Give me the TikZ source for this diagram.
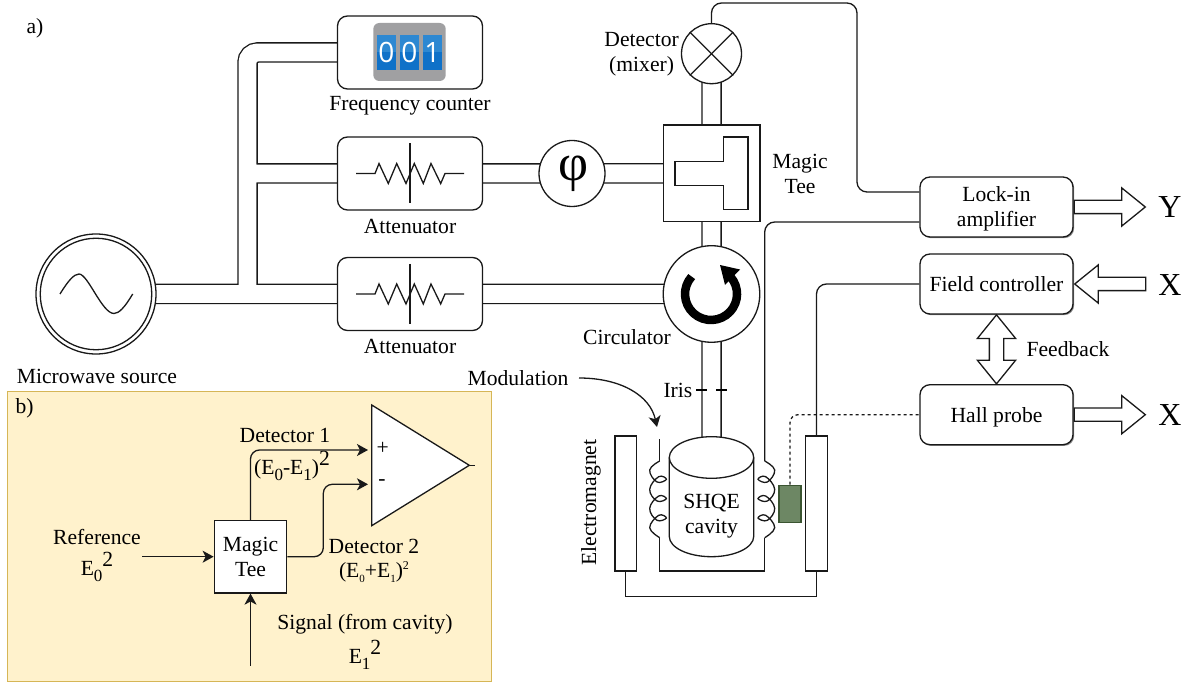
\documentclass[tikz,border=0pt]{standalone}
\usepackage{fontspec}
\setmainfont{Liberation Serif}
\newfontfamily\digitfont{Open Sans}
\usetikzlibrary{arrows.meta,positioning,calc,backgrounds,shadows,shapes.arrows}
\definecolor{panelfill}{HTML}{FFF2CC}
\definecolor{panelline}{HTML}{D6B656}
\definecolor{probefill}{HTML}{6D8764}
\definecolor{probeline}{HTML}{3A5431}
\definecolor{countgray}{HTML}{A0A0A2}
\definecolor{digittop}{HTML}{2D88D2}
\definecolor{digitlow}{HTML}{0F71C8}
\newcommand{\lbl}{\fontsize{21.6}{25}\selectfont}
\newcommand{\lowsub}[1]{\raisebox{-.28em}{\fontsize{17}{17}\selectfont #1}}
\newcommand{\upsup}[1]{\raisebox{.42em}{#1}}
\newcommand{\tinysub}[1]{\raisebox{-.2em}{\fontsize{11}{11}\selectfont #1}}
\newcommand{\tinysup}[1]{\raisebox{.4em}{\fontsize{12}{12}\selectfont #1}}
\tikzset{
  wire/.style={line width=1.3pt, draw=black!90},
  guide/.style={line width=1.3pt, draw=black!90, double=white, double distance=17.9pt, rounded corners=10pt},
  rbox/.style={rectangle, rounded corners=10pt, draw=black!90, line width=1.3pt, fill=white,
               align=center, minimum width=145pt, minimum height=73pt, inner sep=0pt},
  ctrl/.style={rbox, minimum width=153pt, minimum height=60pt,
               drop shadow={shadow xshift=1.2pt, shadow yshift=-1.2pt, fill=black, opacity=.45}},
  disc/.style={circle, draw=black!90, line width=1.3pt, fill=white, inner sep=0pt, minimum size=#1},
  magnet/.style={rectangle, draw=black!90, line width=1.3pt, fill=white, inner sep=0pt,
                 minimum width=21.6pt, minimum height=135pt},
  txt/.style={inner sep=0pt, align=center},
  digit/.style={inner sep=0pt, text=white, font=\digitfont\fontsize{28}{28}\selectfont},
  bigarr/.style={single arrow, draw=black!90, line width=1.3pt, fill=white, inner xsep=0pt, inner ysep=6pt,
                 minimum height=71pt, single arrow head extend=12.5pt,
                 single arrow tip angle=78, single arrow head indent=0pt},
  arr/.style={-{Stealth[length=11pt, width=12pt, inset=3pt]}, line width=1.3pt, draw=black!90},
}
\newcommand{\resist}[1]{
  \draw[wire, shift={(#1.center)}] (-54,0) -- (-35,0) -- (-31,-10) -- (-21.7,10) -- (-13.3,-10) -- (-4,10)
    -- (4.3,-10) -- (13.3,10) -- (21,-10) -- (30.7,10) -- (35,0) -- (54,0);
  \draw[wire, shift={(#1.center)}] (0,-30) -- (0,30);
}
\newcommand{\coilat}[2]{
  \draw[wire, shift={(#1,461)}, xscale=#2] plot[smooth, tension=.7] coordinates {(0,0) (-10,9) (-2.7,21) (6.7,18.3)
    (-1,15.7) (-10,28.3) (-2.7,40) (6.7,37.7) (-1,35) (-10,47.3) (-2.7,59.3) (6.7,57) (-1,54.3) (-10,66.7) (0,76.7)};
}
\begin{document}
\begin{tikzpicture}[x=1pt, y=-1pt, every node/.append style={font=\lbl}]
    \useasboundingbox (0,0) rectangle (1195,684);
    \node[disc=120pt] (source) at (96,294) {};
    \node[disc=111.5pt, fill=none] (sourcein) at (96,294) {};
    \draw[wire] (60,294) .. controls (68,281) and (74,274) .. (79,274) .. controls (88,274) and (102,313.5) .. (114,313.5) .. controls (119,313.5) and (125,307) .. (132.7,294);
    \node[rbox] (fcount) at (410,52.5) {};
    \node[rbox] (att1) at (410,173.5) {};
    \node[rbox] (att2) at (410,294) {};
    \node[disc=66pt] (phi) at (572,173.5) {\hspace{3pt}\raisebox{-4pt}{\fontsize{52}{52}\selectfont φ}};
    \node[rectangle, draw=black!90, line width=1.3pt, fill=white, minimum size=96.7pt, inner sep=0pt] (mtee) at (711.5,173.3) {};
    \node[disc=60pt] (det) at (711.5,53.7) {};
    \node[disc=96.6pt] (circ) at (711.5,294) {};
    \node[ctrl, text depth=0pt] (lock) at (996.5,207) {Lock-in\\amplifier};
    \node[ctrl] (field) at (996.5,284) {Field controller};
    \node[ctrl, text depth=0pt] (hall) at (996.5,414.7) {Hall probe};
    \node[magnet] (magl) at (625.8,503.5) {};
    \node[magnet] (magr) at (816.5,503.5) {};
    \node[rectangle, draw=probeline, line width=1.3pt, fill=probefill, minimum width=22pt, minimum height=37pt, inner sep=0pt] (probe) at (790,503.8) {};
    \coordinate (trunk) at (247.5,294);
    \coordinate (trunkup) at (247.5,173.5);
    \coordinate (cavtop) at (711.5,445);
    \coordinate (tcorner) at (857,3);
    \coordinate (lockup) at ($(lock.west)+(0,-15)$);
    \coordinate (lockdn) at ($(lock.west)+(0,15)$);
    \coordinate (coilrtop) at (764.7,461);
    \coordinate (coilltop) at (659.7,461);
    \coordinate (coillend) at (659.7,537.7);
    \coordinate (coilrend) at (764.7,537.7);
    \begin{scope}[on background layer]
      \draw[guide] (source.center) -- (att2.center) (trunk) |- (fcount.center) (trunkup) -- (att1.center)
        (att1.center) -- (phi.center) -- (mtee.center) (att2.center) -- (circ.center)
        (det.center) -- (circ.center) -- (cavtop);
    \end{scope}
    \resist{att1}
    \resist{att2}
    \draw[wire] (det.north west) -- (det.south east);
    \draw[wire] (det.north east) -- (det.south west);
    \draw[wire] (675,161.3) -- (723.3,161.3) -- (723.3,137) -- (748,137) -- (748,209.7) -- (723.3,209.7) -- (723.3,185.3) -- (675,185.3) -- cycle;
    \draw[line width=8.5pt] (691.7,276.6) arc[start angle=138, end angle=400, radius=26pt];
    \fill (720,265) -- (740,269.5) -- (725,285) -- cycle;
    \draw[wire, rounded corners=10pt] (det.north) |- (tcorner) |- (lockup);
    \draw[wire, rounded corners=10pt] (lockdn) -| (coilrtop);
    \draw[wire, rounded corners=10pt] (field.west) -| (magr.north);
    \draw[wire, dashed, rounded corners=8pt] (probe.north) |- (hall.west);
    \draw[wire] (magl.south) -- ++(0,25) -| (magr.south);
    \draw[wire] (659.7,439.3) -- (coilltop);
    \draw[wire] (coillend) -- (659.7,571) -| (coilrend);
    \coilat{659.7}{1}
    \coilat{764.7}{-1}
    \draw[wire, fill=white] (669.3,457.5) arc[start angle=180, end angle=0, x radius=42.2pt, y radius=20.8pt] -- (753.7,536.5) arc[start angle=0, end angle=-180, x radius=42.2pt, y radius=20.2pt] -- cycle;
    \draw[wire] (669.3,457.5) arc[start angle=180, end angle=360, x radius=42.2pt, y radius=20.8pt];
    \node[txt] (cav) at (711.5,516) {SHQE\\cavity};
    \draw[line width=2pt] (696,389.7) -- (707,389.7);
    \draw[line width=2pt] (716,389.7) -- (727,389.7);
    \node[txt, anchor=east] (iris) at (692.5,390) {Iris};
    \node[txt] (modu) at (518,378) {Modulation};
    \coordinate (modstart) at (579,378);
    \coordinate (modend) at (657,427);
    \draw[arr] (modstart) .. controls (620,378) and (650,395) .. (modend);
    \node[bigarr, right=0pt of lock] (arry) {};
    \node[bigarr, shape border rotate=180, right=0pt of field] (arrxin) {};
    \node[bigarr, right=0pt of hall.east |- hall.center] (arrx) {};
    \node[double arrow, draw=black!90, line width=1.3pt, fill=white, inner xsep=0pt, inner ysep=6.5pt, minimum height=69pt,
      double arrow head extend=12pt, double arrow tip angle=78, rotate=90] (feed) at ($(field.south)!.5!(hall.north)$) {};
    \node[txt, font=\fontsize{32}{32}\selectfont] (ylab) at (1170,207) {Y};
    \node[txt, font=\fontsize{32}{32}\selectfont] (xlaba) at (1170,285) {X};
    \node[txt, font=\fontsize{32}{32}\selectfont] (xlabb) at (1170,415) {X};
    \node[txt] (feedlab) at (1068,349) {Feedback};
    \node[txt, below=7pt of fcount] (fcountlab) {Frequency counter};
    \node[txt, below=8pt of att1] (att1lab) {Attenuator};
    \node[txt, below=8pt of att2] (att2lab) {Attenuator};
    \node[txt, anchor=east] (detlab) at (679,54.5) {Detector\\(mixer)};
    \node[txt] (mteelab) at (800,174) {Magic\\Tee};
    \node[txt] (circlab) at (627,337) {Circulator};
    \node[txt] (srclab) at (97,376) {Microwave source};
    \node[txt, rotate=90] (maglab) at (591,502.5) {Electromagnet};
    \node[txt] (alab) at (35,28) {a)};
    \node[rectangle, rounded corners=6pt, fill=countgray, minimum width=72.4pt, minimum height=58pt, inner sep=0pt] (cbody) at (409.5,52) {};
    \node[rectangle, fill=digitlow, minimum width=19pt, minimum height=35pt, inner sep=0pt] (d1) at (386.5,52.5) {};
    \node[rectangle, fill=digitlow, minimum width=19pt, minimum height=35pt, inner sep=0pt] (d2) at (409.5,52.5) {};
    \node[rectangle, fill=digitlow, minimum width=19pt, minimum height=35pt, inner sep=0pt] (d3) at (432.5,52.5) {};
    \fill[digittop] (d1.north west) rectangle (d1.east);
    \fill[digittop] (d2.north west) rectangle (d2.east);
    \fill[digittop] (d3.north west) rectangle (d3.east);
    \node[digit] at (d1) {0};
    \node[digit] at (d2) {0};
    \node[digit] at (d3) {1};
    \node[rectangle, draw=panelline, line width=1pt, fill=panelfill, minimum width=484pt, minimum height=289pt, inner sep=0pt] (panelb) at (249,536.5) {};
    \node[txt] (blab) at (24.5,408) {b)};
    \node[rectangle, draw=black!90, line width=1.3pt, fill=white, align=center, minimum size=72.5pt, inner sep=0pt] (btee) at (250.5,556.7) {Magic\\Tee};
    \draw[wire, fill=white] (371.7,405) -- (371.7,525.7) -- (469.3,465.3) -- cycle;
    \draw[wire] (469.3,465.3) -- (475,465.3);
    \coordinate (plusin) at (368,450);
    \coordinate (minusin) at (368,484.3);
    \coordinate (refin) at (142,556.7);
    \coordinate (sigin) at (250.5,665.7);
    \draw[arr, rounded corners=9pt] (btee.north) |- (plusin);
    \draw[arr, rounded corners=9pt] (btee.east) -- (323.3,556.7) -- (323.3,484.3) -- (minusin);
    \draw[arr] (refin) -- (btee.west);
    \draw[arr] (sigin) -- (btee.south);
    \node[txt] (plus) at (382.7,448) {+};
    \node[txt] (minus) at (382,483) {-};
    \node[txt] (det1lab) at (285,435) {Detector 1};
    \node[txt] (e12lab) at (292,466) {(E\lowsub{0}-E\lowsub{1})\upsup{2}};
    \node[txt] (reflab) at (97,537) {Reference};
    \node[txt] (e0lab) at (97,567) {E\lowsub{0}\upsup{2}};
    \node[txt] (det2lab) at (374,546) {Detector 2};
    \node[txt] (e02lab) at (374,572) {(E\tinysub{0}+E\tinysub{1})\tinysup{2}};
    \node[txt] (siglab) at (365,624) {Signal (from cavity)};
    \node[txt] (e1lab) at (365,655) {E\lowsub{1}\upsup{2}};
  \end{tikzpicture}
\end{document}
